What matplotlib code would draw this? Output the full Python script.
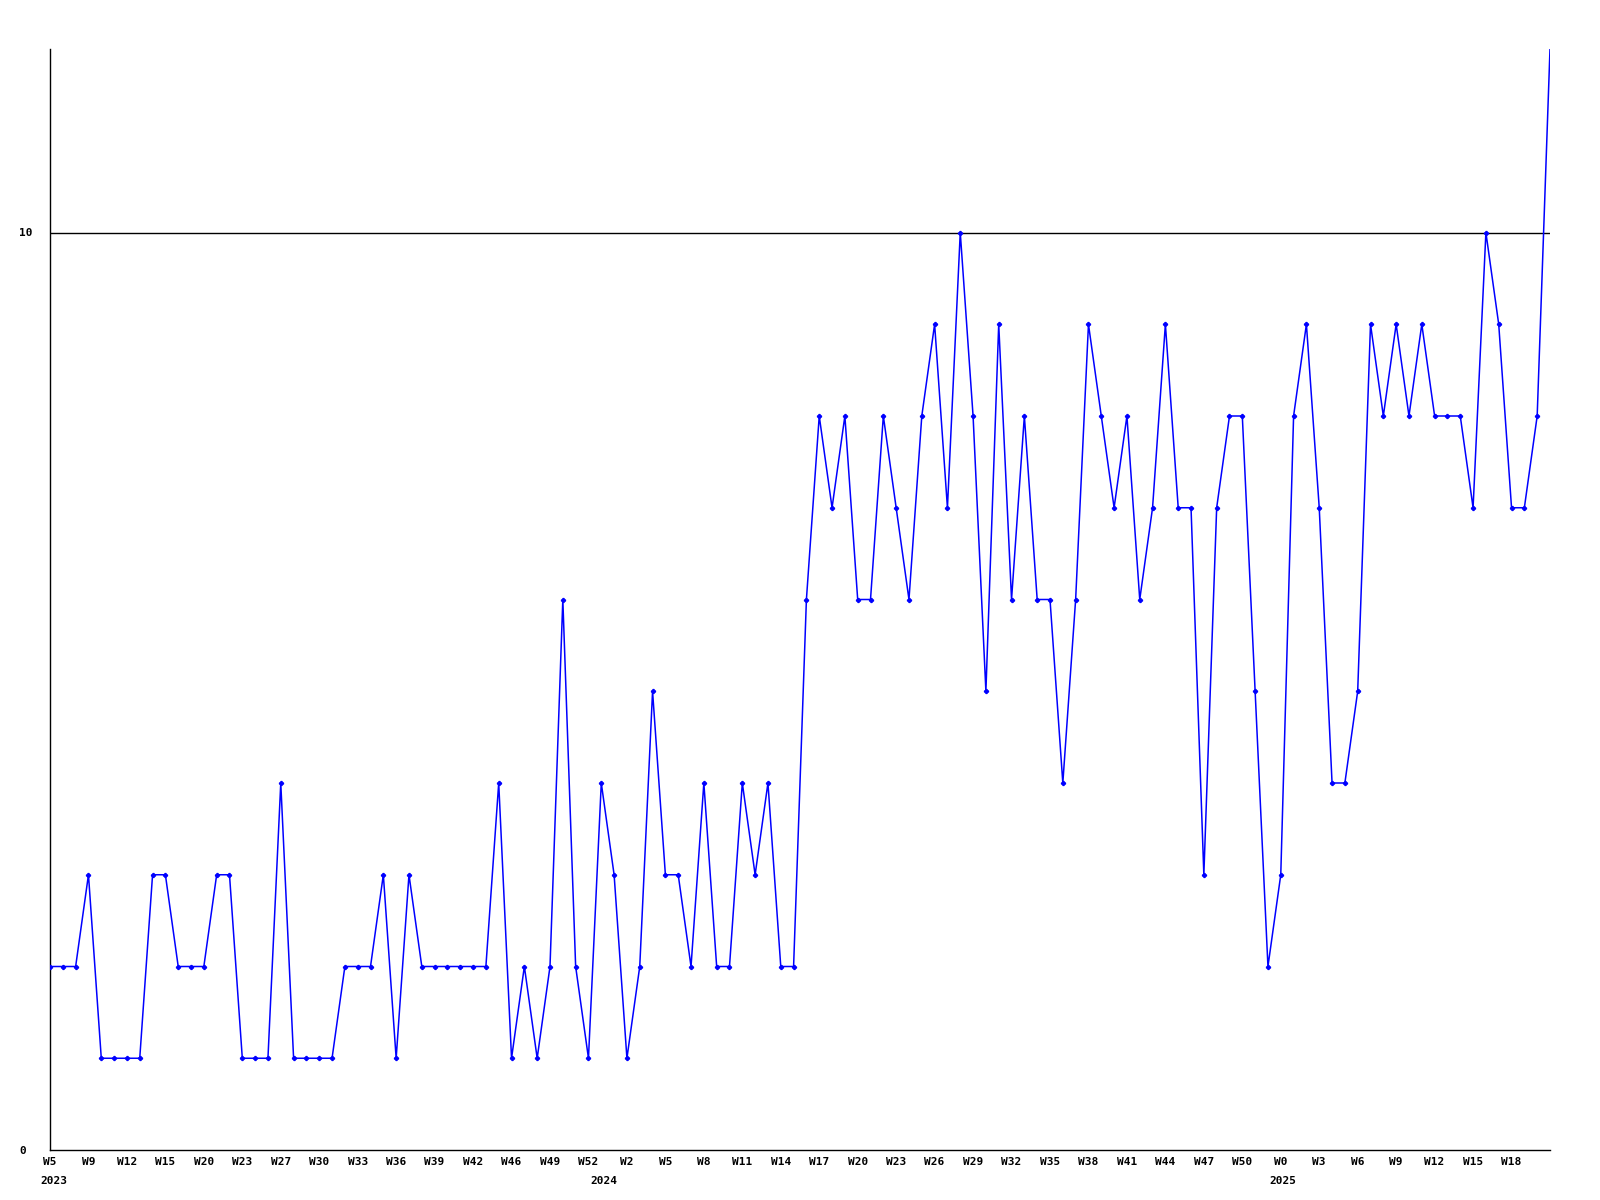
import matplotlib
matplotlib.use("Agg")
import matplotlib.pyplot as plt

values = [2, 2, 2, 3, 1, 1, 1, 1, 3, 3,
          2, 2, 2, 3, 3, 1, 1, 1, 4, 1,
          1, 1, 1, 2, 2, 2, 3, 1, 3, 2,
          2, 2, 2, 2, 2, 4, 1, 2, 1, 2,
          6, 2, 1, 4, 3, 1, 2, 5, 3, 3,
          2, 4, 2, 2, 4, 3, 4, 2, 2, 6,
          8, 7, 8, 6, 6, 8, 7, 6, 8, 9,
          7, 10, 8, 5, 9, 6, 8, 6, 6, 4,
          6, 9, 8, 7, 8, 6, 7, 9, 7, 7,
          3, 7, 8, 8, 5, 2, 3, 8, 9, 7,
          4, 4, 5, 9, 8, 9, 8, 9, 8, 8,
          8, 7, 10, 9, 7, 7, 8, 12]

week_labels = ["W5", "W9", "W12", "W15", "W20", "W23", "W27", "W30", "W33",
               "W36", "W39", "W42", "W46", "W49", "W52", "W2", "W5", "W8",
               "W11", "W14", "W17", "W20", "W23", "W26", "W29", "W32", "W35",
               "W38", "W41", "W44", "W47", "W50", "W0", "W3", "W6", "W9",
               "W12", "W15", "W18"]
year_labels = ["2023", "2024", "2025"]
year_index = [0.3, 43.2, 96.2]

ytick_values = [0, 10]
ytick_labels = ["0", "10"]

font = dict(family="DejaVu Sans Mono", weight="bold", size=8)

fig = plt.figure(figsize=(16, 12), dpi=100)
ax = fig.add_axes([50 / 1600, 1 - 1150 / 1200, 1500 / 1600, 1101 / 1200])

x = list(range(len(values)))
ax.plot(x, values, color="#0000ff", lw=1.1, marker="P", ms=2.8,
        mec="#0000ff", mfc="#0000ff", markevery=list(range(len(values) - 1)),
        clip_on=True, zorder=3)
ax.axhline(10, color="black", lw=1, zorder=2)

ax.set_xlim(0, len(values) - 1)
ax.set_ylim(0, 12)

for s in ["top", "right"]:
    ax.spines[s].set_visible(False)
for s in ["left", "bottom"]:
    ax.spines[s].set_color("black")
    ax.spines[s].set_linewidth(1)

tick_pos = list(range(0, 3 * len(week_labels), 3))
ax.set_xticks(tick_pos)
ax.set_xticklabels(week_labels, fontdict=font)
ax.tick_params(axis="x", length=0, pad=5)

ax.set_yticks(ytick_values)
ax.set_yticklabels(ytick_labels, fontdict=font, ha="left")
ax.tick_params(axis="y", length=0, pad=22)

for lbl, xi in zip(year_labels, year_index):
    ax.annotate(lbl, xy=(xi, 0), xycoords=("data", "axes fraction"),
                xytext=(0, -19), textcoords="offset points",
                ha="center", va="top", **font)

fig.savefig("out.png", dpi=100, facecolor="white")
